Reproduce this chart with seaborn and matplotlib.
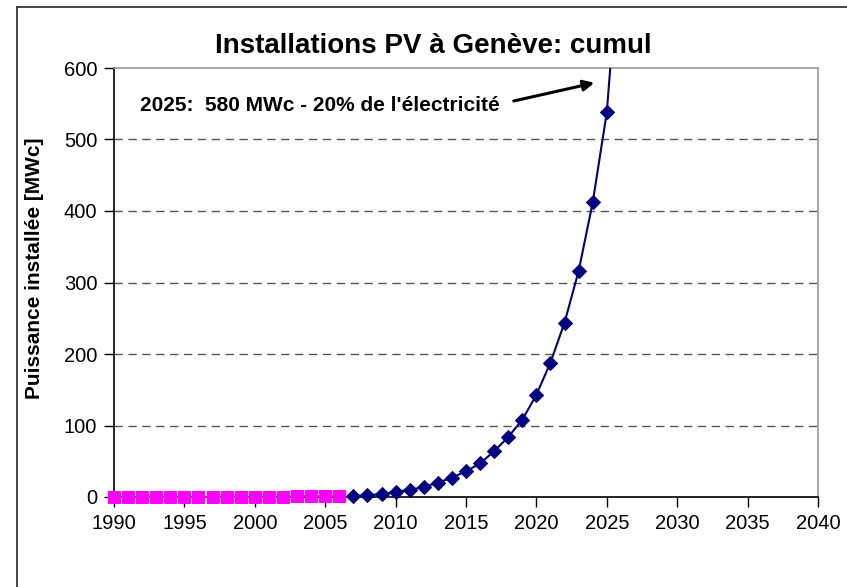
import matplotlib
matplotlib.use("Agg")
import matplotlib.pyplot as plt
from matplotlib.lines import Line2D
import seaborn as sns
import pandas as pd

# historical installations (magenta squares)
years_hist = list(range(1990, 2007))
mw_hist = [0, 0, 0, 0, 0, 0, 0, 0, 0, 0, 0, 0, 0, 1.5, 1.5, 1.5, 1.5]

# projection (navy diamonds); 2026 only carries the line past the top
years_proj = list(range(2007, 2027))
mw_proj = [2, 2.5, 4, 7, 10, 14, 20, 27, 36, 47, 64, 84, 108, 143,
           188, 244, 316, 412, 538, 790]

x_ticks = list(range(1990, 2041, 5))
y_ticks = list(range(0, 601, 100))

title = "Installations PV à Genève: cumul"
y_label = "Puissance installée [MWc]"
note = "2025:  580 MWc - 20% de l'électricité"

sns.set_style("white")
plt.rcParams["font.family"] = ["Liberation Sans", "DejaVu Sans"]
plt.rcParams["text.color"] = "black"

df_hist = pd.DataFrame({"annee": years_hist, "mw": mw_hist})
df_proj = pd.DataFrame({"annee": years_proj, "mw": mw_proj})

fig = plt.figure(figsize=(8.47, 5.87), dpi=100)
ax = fig.add_axes([114 / 847, 1 - 497 / 587, (818 - 114) / 847, (497 - 68) / 587])

for yv in y_ticks[1:-1]:
    ax.axhline(yv, color="#555555", lw=1, dashes=(6, 4), zorder=1)

sns.lineplot(data=df_hist, x="annee", y="mw", ax=ax, color="#FF00FF", lw=1,
             marker="s", markersize=8, markeredgecolor="#FF00FF", zorder=3,
             clip_on=False)
sns.lineplot(data=df_proj[df_proj["annee"] <= 2025], x="annee", y="mw", ax=ax,
             color="#000080", lw=0, marker="D", markersize=7.5,
             markeredgecolor="#000080", zorder=4, clip_on=False)
sns.lineplot(data=df_proj, x="annee", y="mw", ax=ax, color="#000080", lw=1.5,
             zorder=3)

ax.set_xlim(1990, 2040)
ax.set_ylim(0, 600)
ax.set_xticks(x_ticks)
ax.set_yticks(y_ticks)
ax.tick_params(axis="both", direction="out", length=7, width=1, labelsize=14.5,
               colors="black", pad=5, left=True, bottom=True)
ax.set_xlabel("")
ax.set_ylabel("")

for side in ["left", "bottom"]:
    ax.spines[side].set_color("black")
    ax.spines[side].set_linewidth(1.2)
for side in ["top", "right"]:
    ax.spines[side].set_color("#999999")
    ax.spines[side].set_linewidth(1.2)

fig.text(35 / 847, 1 - 268 / 587, y_label, fontsize=15, fontweight="bold",
         rotation=90, ha="center", va="center", color="black")
fig.text(433 / 847, 1 - 46 / 587, title, fontsize=20, fontweight="bold",
         ha="center", va="center", color="black")

ax.annotate("", xy=(2024.3, 580), xytext=(2018.2, 553),
            arrowprops=dict(arrowstyle="-|>", color="black", lw=2.2,
                            mutation_scale=16))
ax.text(2017.4, 548, note, fontsize=15, fontweight="bold", ha="right",
        va="center", color="black")

# chart frame (only left and top edges visible)
fig.add_artist(Line2D([16.5 / 847, 16.5 / 847], [0, 1 - 7 / 587],
                      transform=fig.transFigure, color="#222222", lw=1.2))
fig.add_artist(Line2D([16.5 / 847, 1], [1 - 7 / 587, 1 - 7 / 587],
                      transform=fig.transFigure, color="#222222", lw=1.2))

fig.savefig("out.png", dpi=100)
